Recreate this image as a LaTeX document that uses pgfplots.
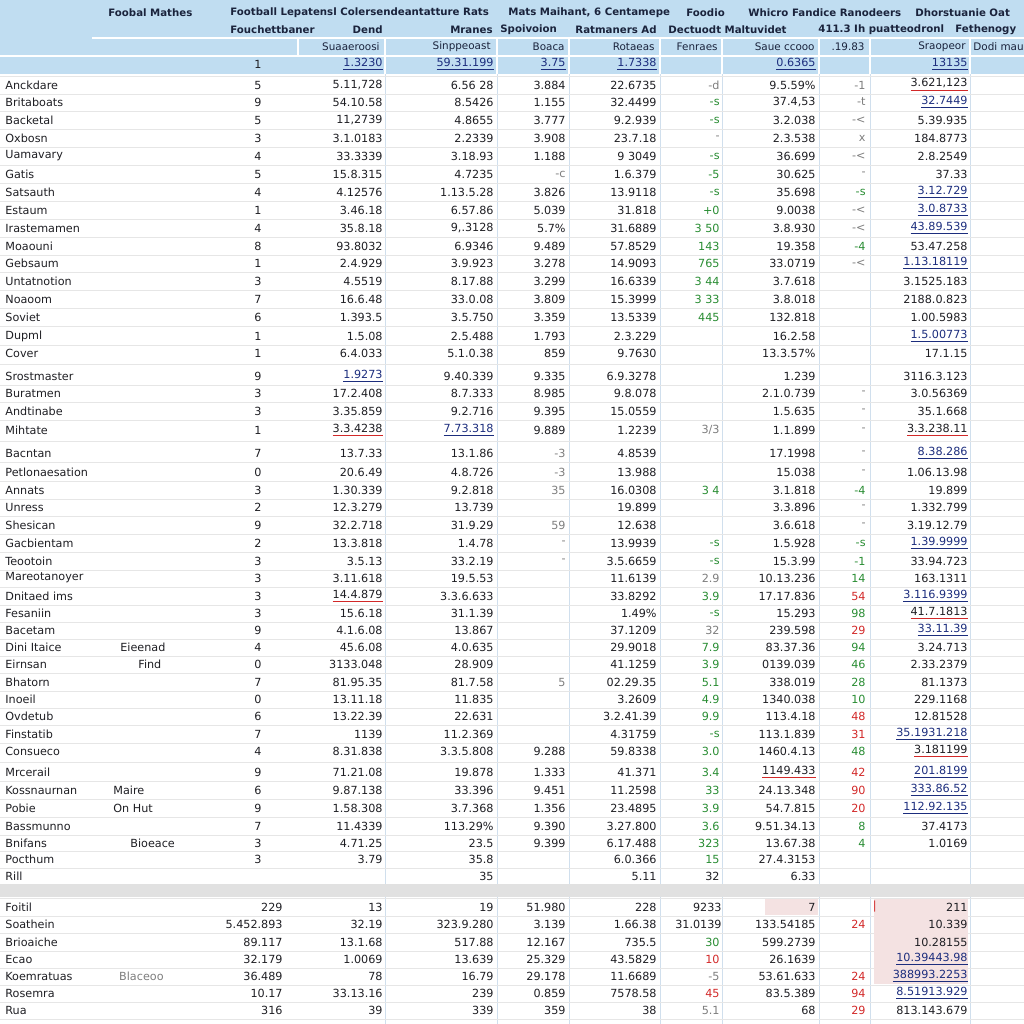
\documentclass[border=0pt]{standalone}
\usepackage{fontspec}
\setmainfont{DejaVu Sans}
\usepackage{pgfplots}
\usepackage{pgfplotstable}
\pgfplotsset{compat=1.18}

\definecolor{hdr}{RGB}{192,221,241}
\definecolor{hdrink}{RGB}{26,35,60}
\definecolor{ink}{RGB}{30,30,35}
\definecolor{navy}{RGB}{28,45,125}
\definecolor{grn}{RGB}{40,140,50}
\definecolor{rd}{RGB}{210,40,40}
\definecolor{gry}{RGB}{125,125,125}
\definecolor{vline}{RGB}{208,223,237}
\definecolor{hline}{RGB}{230,230,230}
\definecolor{band}{RGB}{225,225,225}
\definecolor{pinkish}{RGB}{244,226,226}

\newcommand{\body}{\fontsize{5.6}{6.5}\selectfont}
\newcommand{\hbold}{\fontsize{5.1}{6}\selectfont\bfseries}
\newcommand{\hreg}{\fontsize{5.2}{6}\selectfont}

\pgfplotsset{
  txt/.style n args={3}{draw=none, mark=none, forget plot, nodes near coords,
    point meta=explicit symbolic,
    every node near coord/.append style={anchor=#1, text=#2, font=#3, inner sep=0pt}},
  ublue/.style={txt={east}{navy}{\body}, nodes near coords={\underline{\pgfplotspointmeta}}},
  ured/.style={txt={east}{rd}{\body}, nodes near coords={\underline{\textcolor{ink}{\pgfplotspointmeta}}}},
}

% ---- header texts (x;y;t)
\pgfplotstableread[col sep=semicolon]{
x;y;t
108;13;Foobal Mathes
230;13;Football Lepatensl Colersendeantatture Rats
508;13;Mats Maihant, 6 Centamepe
686;13;Foodio
748;13;Whicro Fandice Ranodeers
915;13;Dhorstuanie Oat
230;30;Fouchettbaner
500;30;Spoivoion
668;30;Dectuodt Maltuvidet
818;30;411.3 Ih puatteodronl
955;30;Fethenogy
}\hdrW
\pgfplotstableread[col sep=semicolon]{
x;y;t
383;30;Dend
493;30;Mranes
657;30;Ratmaners Ad
}\hdrE
\pgfplotstableread[col sep=semicolon]{
x;y;t
380;47;Suaaeroosi
491;47;Sinppeoast
565;47;Boaca
655;47;Rotaeas
718;47;Fenraes
815;47;Saue ccooo
865;47;.19.83
966;47;Sraopeor
}\subE
\pgfplotstableread[col sep=semicolon]{
x;y;t
973;47;Dodi mau
}\subW

% ---- row labels
\pgfplotstableread[col sep=semicolon]{
y;t
85;Anckdare
102;Britaboats
120;Backetal
138;Oxbosn
156;Uamavary
174;Gatis
192;Satsauth
210;Estaum
228;Irastemamen
246;Moaouni
263;Gebsaum
281;Untatnotion
299;Noaoom
317;Soviet
336;Dupml
353;Cover
376;Srostmaster
393;Buratmen
411;Andtinabe
430;Mihtate
453;Bacntan
472;Petlonaesation
490;Annats
507;Unress
525;Shesican
543;Gacbientam
561;Teootoin
578;Mareotanoyer
596;Dnitaed ims
613;Fesaniin
630;Bacetam
647;Dini Itaice
664;Eirnsan
682;Bhatorn
699;Inoeil
716;Ovdetub
734;Finstatib
751;Consueco
772;Mrcerail
790;Kossnaurnan
808;Pobie
826;Bassmunno
843;Bnifans
859;Pocthum
876;Rill
907;Foitil
924;Soathein
942;Brioaiche
959;Ecao
976;Koemratuas
993;Rosemra
1010;Rua
}\labels
\pgfplotstableread[col sep=semicolon]{
x;y;t
120;647;Eieenad
138;664;Find
113;790;Maire
113;808;On Hut
130;843;Bioeace
}\midlab

% ---- column 1 (single digits) and bottom first column
\pgfplotstableread[col sep=semicolon]{
y;t
64;1
85;5
102;9
120;5
138;3
156;4
174;5
192;4
210;1
228;4
246;8
263;1
281;3
299;7
317;6
336;1
353;1
376;9
393;3
411;3
430;1
453;7
472;0
490;3
507;2
525;9
543;2
561;3
578;3
596;3
613;3
630;9
647;4
664;0
682;7
699;0
716;6
734;7
751;4
772;9
790;6
808;9
826;7
843;3
859;3
}\cOne
\pgfplotstableread[col sep=semicolon]{
y;t
907;229
924;5.452.893
942;89.117
959;32.179
976;36.489
993;10.17
1010;316
}\cZero

\pgfplotstableread[col sep=semicolon]{
y;t
85;5.11,728
102;54.10.58
120;11,2739
138;3.1.0183
156;33.3339
174;15.8.315
192;4.12576
210;3.46.18
228;35.8.18
246;93.8032
263;2.4.929
281;4.5519
299;16.6.48
317;1.393.5
336;1.5.08
353;6.4.033
393;17.2.408
411;3.35.859
453;13.7.33
472;20.6.49
490;1.30.339
507;12.3.279
525;32.2.718
543;13.3.818
561;3.5.13
578;3.11.618
613;15.6.18
630;4.1.6.08
647;45.6.08
664;3133.048
682;81.95.35
699;13.11.18
716;13.22.39
734;1139
751;8.31.838
772;71.21.08
790;9.87.138
808;1.58.308
826;11.4339
843;4.71.25
859;3.79
907;13
924;32.19
942;13.1.68
959;1.0069
976;78
993;33.13.16
1010;39
}\cTwo

\pgfplotstableread[col sep=semicolon]{
y;t
85;6.56 28
102;8.5426
120;4.8655
138;2.2339
156;3.18.93
174;4.7235
192;1.13.5.28
210;6.57.86
228;9,.3128
246;6.9346
263;3.9.923
281;8.17.88
299;33.0.08
317;3.5.750
336;2.5.488
353;5.1.0.38
376;9.40.339
393;8.7.333
411;9.2.716
453;13.1.86
472;4.8.726
490;9.2.818
507;13.739
525;31.9.29
543;1.4.78
561;33.2.19
578;19.5.53
596;3.3.6.633
613;31.1.39
630;13.867
647;4.0.635
664;28.909
682;81.7.58
699;11.835
716;22.631
734;11.2.369
751;3.3.5.808
772;19.878
790;33.396
808;3.7.368
826;113.29\%
843;23.5
859;35.8
876;35
907;19
924;323.9.280
942;517.88
959;13.639
976;16.79
993;239
1010;339
}\cThree

\pgfplotstableread[col sep=semicolon]{
y;t
85;3.884
102;1.155
120;3.777
138;3.908
156;1.188
192;3.826
210;5.039
228;5.7\%
246;9.489
263;3.278
281;3.299
299;3.809
317;3.359
336;1.793
353;859
376;9.335
393;8.985
411;9.395
430;9.889
751;9.288
772;1.333
790;9.451
808;1.356
826;9.390
843;9.399
907;51.980
924;3.139
942;12.167
959;25.329
976;29.178
993;0.859
1010;359
}\cFour

\pgfplotstableread[col sep=semicolon]{
y;t
85;22.6735
102;32.4499
120;9.2.939
138;23.7.18
156;9 3049
174;1.6.379
192;13.9118
210;31.818
228;31.6889
246;57.8529
263;14.9093
281;16.6339
299;15.3999
317;13.5339
336;2.3.229
353;9.7630
376;6.9.3278
393;9.8.078
411;15.0559
430;1.2239
453;4.8539
472;13.988
490;16.0308
507;19.899
525;12.638
543;13.9939
561;3.5.6659
578;11.6139
596;33.8292
613;1.49\%
630;37.1209
647;29.9018
664;41.1259
682;02.29.35
699;3.2609
716;3.2.41.39
734;4.31759
751;59.8338
772;41.371
790;11.2598
808;23.4895
826;3.27.800
843;6.17.488
859;6.0.366
876;5.11
907;228
924;1.66.38
942;735.5
959;43.5829
976;11.6689
993;7578.58
1010;38
}\cFive

\pgfplotstableread[col sep=semicolon]{
y;t
85;9.5.59\%
102;37.4,53
120;3.2.038
138;2.3.538
156;36.699
174;30.625
192;35.698
210;9.0038
228;3.8.930
246;19.358
263;33.0719
281;3.7.618
299;3.8.018
317;132.818
336;16.2.58
353;13.3.57\%
376;1.239
393;2.1.0.739
411;1.5.635
430;1.1.899
453;17.1998
472;15.038
490;3.1.818
507;3.3.896
525;3.6.618
543;1.5.928
561;15.3.99
578;10.13.236
596;17.17.836
613;15.293
630;239.598
647;83.37.36
664;0139.039
682;338.019
699;1340.038
716;113.4.18
734;113.1.839
751;1460.4.13
790;24.13.348
808;54.7.815
826;9.51.34.13
843;13.67.38
859;27.4.3153
876;6.33
907;7
924;133.54185
942;599.2739
959;26.1639
976;53.61.633
993;83.5.389
1010;68
}\cSeven

\pgfplotstableread[col sep=semicolon]{
y;t
120;5.39.935
138;184.8773
156;2.8.2549
174;37.33
246;53.47.258
281;3.1525.183
299;2188.0.823
317;1.00.5983
353;17.1.15
376;3116.3.123
393;3.0.56369
411;35.1.668
472;1.06.13.98
490;19.899
507;1.332.799
525;3.19.12.79
561;33.94.723
578;163.1311
647;3.24.713
664;2.33.2379
682;81.1373
699;229.1168
716;12.81528
826;37.4173
843;1.0169
907;211
924;10.339
942;10.28155
1010;813.143.679
}\cNine

% ---- small coloured marks (x;y;t)
\pgfplotstableread[col sep=semicolon]{
x;y;t
720;102;-s
720;120;-s
720;156;-s
720;174;-5
720;192;-s
720;210;+0
720;228;3 50
720;246;143
720;263;765
720;281;3 44
720;299;3 33
720;317;445
720;490;3 4
720;543;-s
720;561;-s
720;596;3.9
720;613;-s
720;647;7.9
720;664;3.9
720;682;5.1
720;699;4.9
720;716;9.9
720;734;-s
720;751;3.0
720;772;3.4
720;790;33
720;808;3.9
720;826;3.6
720;843;323
720;859;15
866;192;-s
866;246;-4
866;490;-4
866;543;-s
866;561;-1
866;578;14
866;613;98
866;647;94
866;664;46
866;682;28
866;699;10
866;751;48
866;826;8
866;843;4
720;942;30
}\green
\pgfplotstableread[col sep=semicolon]{
x;y;t
866;596;54
866;630;29
866;716;48
866;734;31
866;772;42
866;790;90
866;808;20
877;907;|
866;924;24
866;976;24
866;993;94
866;1010;29
720;959;10
720;993;45
}\red
\pgfplotstableread[col sep=semicolon]{
x;y;t
720;85;-d
720;138;-
720;430;3/3
720;578;2.9
720;630;32
720;976;-5
720;1010;5.1
566;174;-c
566;453;-3
566;472;-3
566;490;35
566;525;59
566;543;-
566;561;-
566;682;5
866;85;-1
866;102;-t
866;120;-<
866;138;x
866;156;-<
866;174;-
866;210;-<
866;228;-<
866;263;-<
866;393;-
866;411;-
866;430;-
866;453;-
866;472;-
866;507;-
866;525;-
164;976;Blaceoo
}\grey
\pgfplotstableread[col sep=semicolon]{
x;y;t
720;876;32
722;907;9233
722;924;31.0139
}\inkE

% ---- underlined values
\pgfplotstableread[col sep=semicolon]{
x;y;t
383;64;1.3230
494;64;59.31.199
566;64;3.75
657;64;1.7338
816;64;0.6365
968;64;13135
383;376;1.9273
494;430;7.73.318
968;102;32.7449
968;192;3.12.729
968;210;3.0.8733
968;228;43.89.539
968;263;1.13.18119
968;336;1.5.00773
968;453;8.38.286
968;543;1.39.9999
968;596;3.116.9399
968;630;33.11.39
968;734;35.1931.218
968;772;201.8199
968;790;333.86.52
968;808;112.92.135
968;959;10.39443.98
968;976;388993.2253
968;993;8.51913.929
}\ub
\pgfplotstableread[col sep=semicolon]{
x;y;t
383;430;3.3.4238
383;596;14.4.879
816;772;1149.433
968;85;3.621,123
968;430;3.3.238.11
968;613;41.7.1813
968;751;3.181199
}\ur

\begin{document}
\begin{tikzpicture}
\begin{axis}[name=tab,
  width=512pt, height=512pt, scale only axis,
  xmin=0, xmax=1024, ymin=0, ymax=1024, y dir=reverse,
  axis line style={draw=none}, major tick length=0pt,
  xticklabels={}, yticklabels={},
  xtick={385,497,569,660,722,819,870,970},
  ytick={76,94,111,129,147,165,183,201,219,237,255,272,290,308,326,345,364,385,402,420,441,462,481,499,516,534,552,570,587,605,622,639,656,673,691,708,725,743,762,781,799,817,835,851,868,884,898,916,933,951,968,985,1002,1019},
  xmajorgrids, ymajorgrids,
  x grid style={vline, line width=0.5pt},
  y grid style={hline, line width=0.5pt},
  clip=false, unbounded coords=jump,
]
% backgrounds
\addplot[fill=hdr, draw=none, forget plot] coordinates {(0,0) (1024,0) (1024,74) (0,74)} -- cycle;
\addplot[fill=band, draw=none, forget plot] coordinates {(0,884) (1024,884) (1024,897) (0,897)} -- cycle;
\addplot[fill=pinkish, draw=none, forget plot] coordinates {(874,899) (968,899) (968,984) (874,984)} -- cycle;
\addplot[fill=pinkish, draw=none, forget plot] coordinates {(765,899) (818,899) (818,915) (765,915)} -- cycle;
% white cell borders in the header
\addplot[white, line width=0.8pt, forget plot] coordinates {
 (92,38) (1024,38) (nan,nan) (0,56) (1024,56) (nan,nan)
 (298,38) (298,56) (nan,nan) (385,38) (385,74) (nan,nan) (497,38) (497,74) (nan,nan)
 (569,38) (569,74) (nan,nan) (660,38) (660,74) (nan,nan) (722,38) (722,74) (nan,nan)
 (819,38) (819,74) (nan,nan) (870,38) (870,74) (nan,nan) (970,38) (970,74)};
% header texts
\addplot[txt={west}{hdrink}{\hbold}] table[x=x, y=y, meta=t] {\hdrW};
\addplot[txt={east}{hdrink}{\hbold}] table[x=x, y=y, meta=t] {\hdrE};
\addplot[txt={east}{hdrink}{\hreg}] table[x=x, y=y, meta=t] {\subE};
\addplot[txt={west}{hdrink}{\hreg}] table[x=x, y=y, meta=t] {\subW};
% labels
\addplot[txt={west}{ink}{\body}] table[x expr=5, y=y, meta=t] {\labels};
\addplot[txt={west}{ink}{\body}] table[x=x, y=y, meta=t] {\midlab};
% value columns
\addplot[txt={east}{ink}{\body}] table[x expr=262, y=y, meta=t] {\cOne};
\addplot[txt={east}{ink}{\body}] table[x expr=283, y=y, meta=t] {\cZero};
\addplot[txt={east}{ink}{\body}] table[x expr=383, y=y, meta=t] {\cTwo};
\addplot[txt={east}{ink}{\body}] table[x expr=494, y=y, meta=t] {\cThree};
\addplot[txt={east}{ink}{\body}] table[x expr=566, y=y, meta=t] {\cFour};
\addplot[txt={east}{ink}{\body}] table[x expr=657, y=y, meta=t] {\cFive};
\addplot[txt={east}{ink}{\body}] table[x expr=816, y=y, meta=t] {\cSeven};
\addplot[txt={east}{ink}{\body}] table[x expr=968, y=y, meta=t] {\cNine};
\addplot[txt={east}{ink}{\body}] table[x=x, y=y, meta=t] {\inkE};
\addplot[txt={east}{grn}{\body}] table[x=x, y=y, meta=t] {\green};
\addplot[txt={east}{rd}{\body}] table[x=x, y=y, meta=t] {\red};
\addplot[txt={east}{gry}{\body}] table[x=x, y=y, meta=t] {\grey};
\addplot[ublue] table[x=x, y=y, meta=t] {\ub};
\addplot[ured] table[x=x, y=y, meta=t] {\ur};
\end{axis}
\pgfresetboundingbox
\path[use as bounding box] (tab.south west) rectangle (tab.north east);
\end{tikzpicture}
\end{document}
